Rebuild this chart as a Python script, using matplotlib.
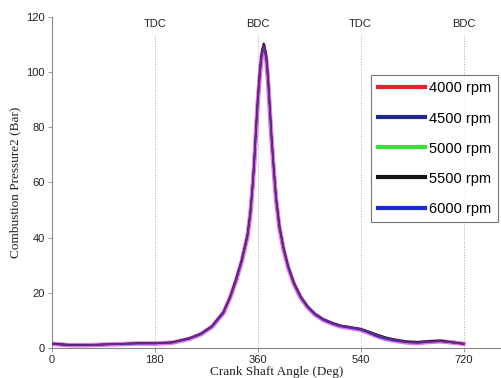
import matplotlib.pyplot as plt

# crank angle (deg) shared by all runs
angle = [0, 30, 60, 90, 120, 150, 180, 210, 240, 260, 280, 300, 312, 322,
         332, 342, 347, 351, 354, 357, 360, 364, 367, 370, 372, 375, 378,
         381, 384, 388, 392, 398, 405, 413, 423, 435, 447, 460, 475, 490,
         505, 520, 540, 555, 570, 585, 600, 620, 640, 660, 680, 700, 720]

p_4000 = [1.6, 1.1, 1.0, 1.3, 1.5, 1.7, 1.7, 2.0, 3.4, 5.0, 7.8, 12.8, 18.5,
          24.5, 31.5, 40.5, 48.5, 58.5, 67.5, 78.5, 89.0, 100.0, 106.0,
          108.5, 108.0, 104.5, 97.0, 86.5, 76.0, 64.5, 54.0, 43.5, 36.0,
          29.5, 23.5, 18.5, 15.0, 12.3, 10.3, 9.0, 8.0, 7.5, 6.8, 5.6, 4.4,
          3.5, 2.9, 2.3, 2.1, 2.4, 2.6, 2.1, 1.6]
p_4500 = [1.5, 1.0, 1.0, 1.3, 1.5, 1.7, 1.7, 2.0, 3.5, 5.1, 7.9, 13.0, 18.7,
          24.8, 31.8, 41.0, 49.0, 59.0, 68.5, 79.5, 90.0, 101.0, 107.0,
          109.5, 109.0, 105.5, 98.0, 87.5, 77.0, 65.0, 54.5, 44.0, 36.3,
          29.7, 23.7, 18.6, 15.1, 12.4, 10.4, 9.1, 8.1, 7.6, 6.9, 5.8, 4.6,
          3.6, 3.0, 2.2, 2.0, 2.3, 2.5, 2.0, 1.5]
p_5000 = [1.6, 1.1, 1.0, 1.3, 1.5, 1.6, 1.7, 1.9, 3.4, 5.0, 7.8, 12.9, 18.6,
          24.6, 31.6, 40.8, 48.8, 58.8, 68.0, 79.0, 89.5, 100.5, 106.5,
          109.0, 108.5, 105.0, 97.5, 87.0, 76.5, 64.8, 54.2, 43.8, 36.1,
          29.6, 23.6, 18.5, 15.0, 12.3, 10.3, 9.0, 8.0, 7.5, 6.8, 5.5, 4.2,
          3.3, 2.7, 2.1, 1.9, 2.3, 2.6, 2.2, 1.6]
p_5500 = [1.7, 1.2, 1.1, 1.3, 1.5, 1.8, 1.8, 2.1, 3.6, 5.2, 8.0, 13.2, 19.0,
          25.2, 32.2, 41.5, 49.5, 59.5, 69.0, 80.5, 91.0, 102.0, 108.0,
          110.5, 110.0, 106.5, 99.0, 88.5, 77.5, 65.5, 55.0, 44.5, 36.6,
          30.0, 24.0, 18.8, 15.2, 12.5, 10.5, 9.2, 8.2, 7.7, 7.0, 6.0, 4.9,
          3.9, 3.2, 2.5, 2.3, 2.6, 2.8, 2.2, 1.6]
p_6000 = [1.5, 1.0, 1.0, 1.2, 1.4, 1.6, 1.6, 1.9, 3.3, 4.9, 7.7, 12.7, 18.4,
          24.4, 31.4, 40.3, 48.3, 58.3, 67.3, 78.3, 88.8, 99.8, 105.8,
          108.3, 107.8, 104.3, 96.8, 86.3, 75.8, 64.3, 53.8, 43.3, 35.8,
          29.3, 23.3, 18.3, 14.8, 12.1, 10.1, 8.8, 7.8, 7.3, 6.6, 5.4, 4.1,
          3.2, 2.6, 2.0, 1.8, 2.2, 2.4, 2.0, 1.5]

runs = [("4000 rpm", p_4000, "#e8202a"),
        ("4500 rpm", p_4500, "#1c2a8c"),
        ("5000 rpm", p_5000, "#38e038"),
        ("5500 rpm", p_5500, "#151515"),
        ("6000 rpm", p_6000, "#1a2ad0")]

markers = [180, 360, 540, 720]
marker_labels = ["TDC", "BDC", "TDC", "BDC"]
xticks = [0, 180, 360, 540, 720]
yticks = [0, 20, 40, 60, 80, 100, 120]

fig = plt.figure(figsize=(5.02, 3.78), dpi=100)
ax = fig.add_axes([0.1036, 0.0794, 0.896, 0.8757])

# pink halo seen around the curves
ax.plot(angle, p_6000, color="#e040e0", lw=3.2, alpha=0.75, zorder=2)
for name, vals, col in runs:
    ax.plot(angle, vals, color=col, lw=1.0, label=name, zorder=3)
# top trace drawn in purple-ish tone to match the blended look
ax.plot(angle, p_4500, color="#6a2a80", lw=1.2, zorder=4)

for m, lab in zip(markers, marker_labels):
    ax.plot([m, m], [0, 114], ls=":", color="#aaaaaa", lw=0.7, zorder=1)
    ax.text(m, 117.5, lab, ha="center", va="center", fontsize=8,
            family="Liberation Sans", color="#222222")

ax.set_xlim(0, 787)
ax.set_ylim(0, 120)
ax.set_xticks(xticks)
ax.set_yticks(yticks)
for s in ["top", "right"]:
    ax.spines[s].set_visible(False)
for s in ["left", "bottom"]:
    ax.spines[s].set_color("#888888")
    ax.spines[s].set_linewidth(0.8)
ax.tick_params(length=3, width=0.6, color="#888888", labelsize=8,
               pad=2, labelcolor="#222222")
for t in ax.get_xticklabels() + ax.get_yticklabels():
    t.set_family("Liberation Sans")

ax.set_xlabel("Crank Shaft Angle (Deg)", family="Liberation Serif",
              fontsize=9.5, labelpad=1, color="#222222")
ax.set_ylabel("Combustion Pressure2 (Bar)", family="Liberation Serif",
              fontsize=9.5, labelpad=4, color="#222222")

leg = ax.legend(loc="upper left", bbox_to_anchor=(0.71, 0.825),
                borderaxespad=0, frameon=True, fancybox=False,
                handlelength=3.2, handletextpad=0.3, borderpad=0.45,
                labelspacing=1.1,
                prop={"family": "Liberation Sans", "size": 10.5})
leg.get_frame().set_edgecolor("#555555")
leg.get_frame().set_linewidth(0.8)
for ln in leg.get_lines():
    ln.set_linewidth(3)

fig.savefig("out.png", dpi=100)
